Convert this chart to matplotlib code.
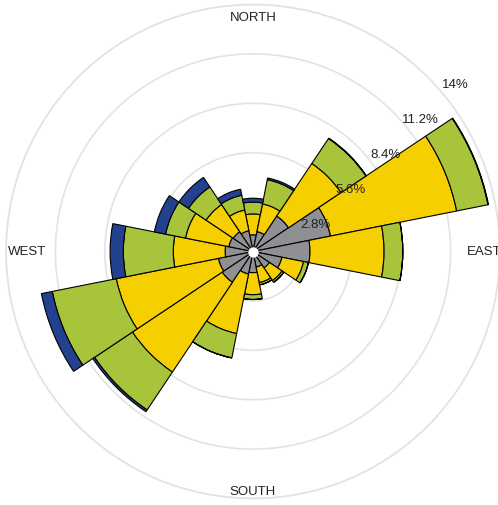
import matplotlib
matplotlib.use('Agg')
import matplotlib.pyplot as plt
import numpy as np

# compass sectors, clockwise from north
directions = ['N', 'NNE', 'NE', 'ENE', 'E', 'ESE', 'SE', 'SSE',
              'S', 'SSW', 'SW', 'WSW', 'W', 'WNW', 'NW', 'NNW']

# frequency (%) per speed class, lowest class first
speed_1 = [0.95, 1.15, 2.42, 4.48, 3.23, 1.67, 1.12, 0.90,
           1.20, 1.30, 2.10, 2.00, 1.58, 1.40, 1.35, 1.20]
speed_2 = [1.18, 1.60, 3.58, 7.29, 4.20, 1.25, 0.86, 0.90,
           1.25, 3.44, 6.12, 5.90, 2.94, 2.50, 1.85, 1.20]
speed_3 = [0.67, 1.40, 1.70, 1.81, 1.06, 0.28, 0.12, 0.13,
           0.27, 1.41, 2.58, 3.70, 2.83, 1.15, 1.20, 0.85]
speed_4 = [0.22, 0.10, 0.03, 0.03, 0.00, 0.00, 0.00, 0.00,
           0.00, 0.00, 0.12, 0.63, 0.75, 0.65, 0.65, 0.35]

ring_ticks = [2.8, 5.6, 8.4, 11.2, 14]
ring_labels = ['2.8%', '5.6%', '8.4%', '11.2%', '14%']

colors = ['#8e9094', '#f6cf00', '#a7c43a', '#22428f']
grid_color = '#e3e3e3'

fig = plt.figure(figsize=(4.98, 5.06), dpi=100)
ax = fig.add_axes([6 / 498, 6.5 / 506, 494 / 498, 494 / 506], projection='polar')
ax.set_theta_zero_location('N')
ax.set_theta_direction(-1)

theta = np.deg2rad(np.arange(len(directions)) * 22.5)
width = np.deg2rad(22.5)

bottom = np.zeros(len(directions))
for vals, col in zip([speed_1, speed_2, speed_3, speed_4], colors):
    vals = np.array(vals)
    ax.bar(theta, vals, width=width, bottom=bottom, color=col,
           edgecolor='black', linewidth=0.8, zorder=3)
    bottom += vals

ax.plot(0, 0, 'o', color='white', ms=6.5, zorder=5)

ax.set_ylim(0, 14)
ax.set_yticks(ring_ticks)
ax.set_yticklabels([])
ax.set_xticks([])
ax.grid(True, color=grid_color, linewidth=1.2)
ax.xaxis.grid(False)
# outer ring (14%) drawn by the frame so it is not clipped
ax.spines['polar'].set_color(grid_color)
ax.spines['polar'].set_linewidth(1.2)

font = 'Liberation Sans'
for t, lab in zip(ring_ticks, ring_labels):
    ax.annotate(lab, xy=(np.deg2rad(45), t), xytext=(28, -7),
                textcoords='offset pixels', ha='center', va='center',
                fontsize=9.5, family=font, color='#222222', zorder=6)

cardinals = [('NORTH', 0, 13.29), ('EAST', 90, 13.1),
             ('SOUTH', 180, 13.57), ('WEST', 270, 12.78)]
for lab, ang, r in cardinals:
    ax.text(np.deg2rad(ang), r, lab, ha='center', va='center',
            fontsize=9.5, family=font, color='#222222')

fig.savefig('out.png', dpi=100)
